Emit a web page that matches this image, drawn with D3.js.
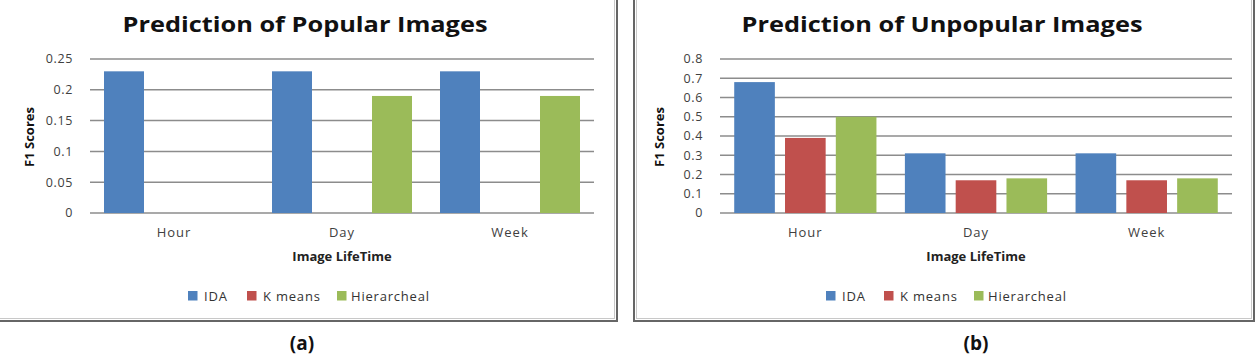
<!DOCTYPE html>
<html>
<head>
<meta charset="utf-8">
<script src="https://cdn.jsdelivr.net/npm/d3@7"></script>
<style>
  body { margin: 0; background: #fff; }
  svg { display: block; }
  text { font-family: "Open Sans", "Liberation Sans", sans-serif; }
</style>
</head>
<body>
<div id="graphContainer"></div>
<script>
// data
const categories = ["Hour", "Day", "Week"];
const seriesNames = ["IDA", "K means", "Hierarcheal"];
const seriesColors = ["#4F81BD", "#C0504D", "#9BBB59"];

const popularIDA = [0.23, 0.23, 0.23];
const popularKmeans = [0, 0, 0];
const popularHier = [0, 0.19, 0.19];
const popularTicks = [0, 0.05, 0.1, 0.15, 0.2, 0.25];

const unpopularIDA = [0.68, 0.31, 0.31];
const unpopularKmeans = [0.39, 0.17, 0.17];
const unpopularHier = [0.5, 0.18, 0.18];
const unpopularTicks = [0, 0.1, 0.2, 0.3, 0.4, 0.5, 0.6, 0.7, 0.8];

const svg = d3
  .select("#graphContainer")
  .append("svg")
  .attr("width", 1257)
  .attr("height", 356);

function drawFrame(x0, x1) {
  const g = svg.append("g");
  g.append("rect")
    .attr("x", x0)
    .attr("y", -10)
    .attr("width", x1 - x0)
    .attr("height", 331)
    .attr("fill", "none")
    .attr("stroke", "#666")
    .attr("stroke-width", 2);
  g.append("rect")
    .attr("x", x0 + 2.5)
    .attr("y", -10)
    .attr("width", x1 - x0 - 5)
    .attr("height", 328.5)
    .attr("fill", "none")
    .attr("stroke", "#c8c8c8")
    .attr("stroke-width", 1);
}

function drawChart(opt) {
  const g = svg.append("g");
  const rows = categories.map((c, i) => ({
    cat: c,
    values: opt.series.map((s, j) => ({ name: seriesNames[j], value: s[i], color: seriesColors[j] })),
  }));

  const x0 = d3
    .scaleBand()
    .domain(categories)
    .range([opt.left, opt.right])
    .paddingInner(1 / 6)
    .paddingOuter(1 / 12);
  const x1 = d3
    .scaleBand()
    .domain(seriesNames)
    .range([0, x0.bandwidth()])
    .paddingInner(0.2);
  const y = d3.scaleLinear().domain([0, opt.max]).range([213, 59]);

  // gridlines
  g.append("g")
    .selectAll("line")
    .data(opt.ticks)
    .enter()
    .append("line")
    .attr("x1", opt.left)
    .attr("x2", opt.right)
    .attr("y1", (d) => y(d))
    .attr("y2", (d) => y(d))
    .attr("stroke", "#8c8c8c")
    .attr("stroke-width", 1.5);

  // y tick labels
  g.append("g")
    .selectAll("text")
    .data(opt.ticks)
    .enter()
    .append("text")
    .attr("x", opt.left - 17)
    .attr("y", (d) => y(d))
    .attr("dy", "0.35em")
    .attr("text-anchor", "end")
    .attr("font-size", 12.5)
    .attr("letter-spacing", 0.6)
    .attr("fill", "#404040")
    .text((d) => d);

  // bars
  g.append("g")
    .selectAll("g")
    .data(rows)
    .enter()
    .append("g")
    .attr("transform", (d) => `translate(${x0(d.cat)},0)`)
    .selectAll("rect")
    .data((d) => d.values.filter((v) => v.value > 0))
    .enter()
    .append("rect")
    .attr("x", (d) => x1(d.name))
    .attr("width", x1.bandwidth())
    .attr("y", (d) => y(d.value))
    .attr("height", (d) => y(0) - y(d.value))
    .attr("fill", (d) => d.color);

  // category labels
  g.append("g")
    .selectAll("text")
    .data(categories)
    .enter()
    .append("text")
    .attr("x", (d) => x0(d) + x0.bandwidth() / 2)
    .attr("y", 237)
    .attr("text-anchor", "middle")
    .attr("font-size", 13)
    .attr("letter-spacing", 1)
    .attr("fill", "#404040")
    .text((d) => d);

  const mid = (opt.left + opt.right) / 2;

  g.append("text")
    .attr("x", opt.titleX)
    .attr("y", 32)
    .attr("text-anchor", "middle")
    .attr("font-size", 22)
    .attr("font-weight", "bold")
    .attr("fill", "#111")
    .attr("textLength", opt.titleW)
    .attr("lengthAdjust", "spacingAndGlyphs")
    .text(opt.title);

  g.append("text")
    .attr("x", mid)
    .attr("y", 261)
    .attr("text-anchor", "middle")
    .attr("font-size", 13)
    .attr("font-weight", "bold")
    .attr("fill", "#222")
    .text("Image LifeTime");

  g.append("text")
    .attr("transform", `translate(${opt.left - 56},137) rotate(-90)`)
    .attr("text-anchor", "middle")
    .attr("font-size", 13)
    .attr("font-weight", "bold")
    .attr("fill", "#111")
    .text("F1 Scores");

  // legend
  const leg = g
    .append("g")
    .selectAll("g")
    .data(seriesNames)
    .enter()
    .append("g")
    .attr("transform", (d, i) => `translate(${opt.legendX[i]},296)`);
  leg
    .append("rect")
    .attr("x", 0)
    .attr("y", -5)
    .attr("width", 9.5)
    .attr("height", 9.5)
    .attr("fill", (d, i) => seriesColors[i]);
  leg
    .append("text")
    .attr("x", (d, i) => (i === 2 ? 14 : 16))
    .attr("dy", "0.35em")
    .attr("font-size", 13)
    .attr("letter-spacing", 0.8)
    .attr("fill", "#333")
    .text((d) => d);

  // panel label
  svg
    .append("text")
    .attr("x", opt.labelX)
    .attr("y", 350)
    .attr("text-anchor", "middle")
    .attr("font-size", 19)
    .attr("font-weight", "bold")
    .attr("fill", "#111")
    .text(opt.label);
}

drawFrame(-10, 617);
drawFrame(634, 1254);

drawChart({
  left: 90,
  right: 594,
  max: 0.25,
  ticks: popularTicks,
  series: [popularIDA, popularKmeans, popularHier],
  title: "Prediction of Popular Images",
  titleX: 305,
  titleW: 365,
  legendX: [188, 247, 337],
  label: "(a)",
  labelX: 302,
});

drawChart({
  left: 720,
  right: 1232,
  max: 0.8,
  ticks: unpopularTicks,
  series: [unpopularIDA, unpopularKmeans, unpopularHier],
  title: "Prediction of Unpopular Images",
  titleX: 942,
  titleW: 401,
  legendX: [826, 884, 974],
  label: "(b)",
  labelX: 976,
});
</script>
</body>
</html>
